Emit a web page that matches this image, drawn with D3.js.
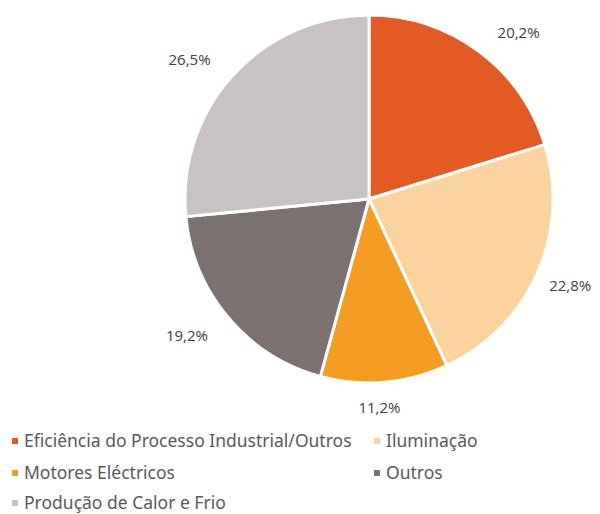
<!DOCTYPE html>
<html><head><meta charset="utf-8">
<script src="https://cdn.jsdelivr.net/npm/d3@7"></script>
<style>body{margin:0;background:#fff}svg{display:block}</style>
</head><body>
<script>
const categories = ["Eficiência do Processo Industrial/Outros","Iluminação","Motores Eléctricos","Outros","Produção de Calor e Frio"];
const values = [20.2, 22.8, 11.2, 19.2, 26.5];
const labels = ["20,2%","22,8%","11,2%","19,2%","26,5%"];
const colors = ["#E35A24","#FBD39E","#F59C22","#7A7170","#C8C3C2"];

// layout: best-fit label nudges (degrees, radius) like the source chart's label placement
const labelAngleNudge = [5.5, -0.6, 2, 3.1, -4.5];
const labelRadius = [224, 219, 209, 228, 227];

const W = 600, H = 514;
const svg = d3.select("body").append("svg").attr("width", W).attr("height", H);
const cx = 369, cy = 199, R = 184;
const data = categories.map((c,i)=>({cat:c, v:values[i], label:labels[i], color:colors[i], i}));
const pie = d3.pie().value(d=>d.v).sort(null);
const arcs = pie(data);
const arc = d3.arc().innerRadius(0).outerRadius(R);
const g = svg.append("g").attr("transform",`translate(${cx},${cy})`);
g.selectAll("path").data(arcs).join("path")
  .attr("d", arc).attr("fill", d=>d.data.color)
  .attr("stroke","#fff").attr("stroke-width",3).attr("stroke-linejoin","round");
g.selectAll("text").data(arcs).join("text")
  .attr("transform", d=>{
    const a = (d.startAngle + d.endAngle)/2 + labelAngleNudge[d.data.i]*Math.PI/180;
    const r = labelRadius[d.data.i];
    return `translate(${r*Math.sin(a)},${-r*Math.cos(a)})`;
  })
  .attr("text-anchor","middle").attr("dy","0.35em")
  .attr("font-family","Open Sans, sans-serif").attr("font-size",15)
  .attr("fill","#404040").text(d=>d.data.label);

const x = d3.scaleOrdinal().domain([0,1]).range([12, 374]);
const y = d3.scaleOrdinal().domain([0,1,2]).range([441, 473, 503]);
const leg = svg.append("g").selectAll("g").data(data).join("g")
  .attr("transform",(d,i)=>`translate(${x(i%2)},${y(Math.floor(i/2))})`);
leg.append("rect").attr("x",0).attr("y",-3).attr("width",6).attr("height",6).attr("fill",d=>d.color);
leg.append("text").attr("x",12).attr("dy","0.35em")
  .attr("font-family","Noto Sans, sans-serif").attr("font-size",17.5)
  .attr("fill","#595959").text(d=>d.cat);
</script>
</body></html>
